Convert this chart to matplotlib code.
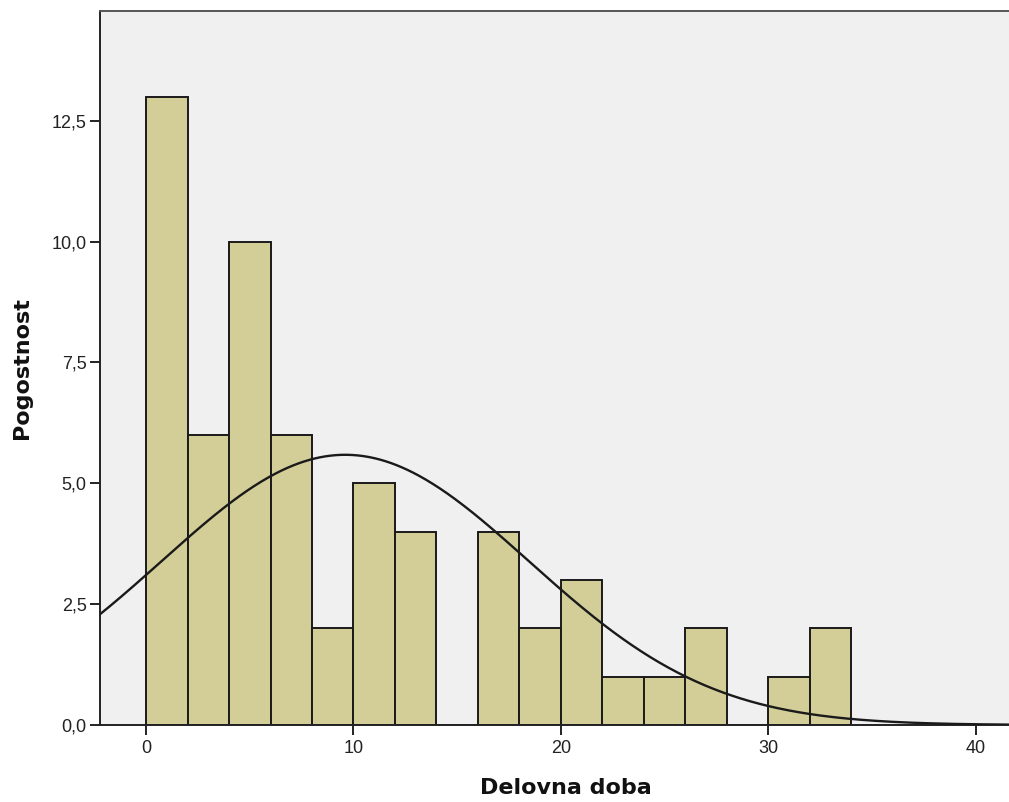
import numpy as np
import matplotlib
matplotlib.use("Agg")
import matplotlib.pyplot as plt

# Data
bin_edges = [0, 2, 4, 6, 8, 10, 12, 14, 16, 18, 20, 22, 24, 26, 28, 30, 32, 34]
counts = [13, 6, 10, 6, 2, 5, 4, 0, 4, 2, 3, 1, 1, 2, 0, 1, 2]
x_ticks = [0, 10, 20, 30, 40]
y_ticks = [0.0, 2.5, 5.0, 7.5, 10.0, 12.5]
y_tick_labels = ["0,0", "2,5", "5,0", "7,5", "10,0", "12,5"]
curve_mean = 9.6
curve_sd = 8.85
x_label = "Delovna doba"
y_label = "Pogostnost"

plt.rcParams['font.family'] = ['Liberation Sans', 'DejaVu Sans']

fig = plt.figure(figsize=(10.09, 8.02), dpi=100)
ax = fig.add_axes([100/1009, 77/802, 909/1009, 714/802])
ax.set_facecolor('#f0f0f0')

lefts = np.array(bin_edges[:-1])
widths = np.diff(bin_edges)
ax.bar(lefts, counts, width=widths, align='edge', color='#d3ce97',
       edgecolor='#1a1a1a', linewidth=1.4, zorder=2)

n = sum(counts)
bw = bin_edges[1] - bin_edges[0]
xs = np.linspace(-2.25, 41.6, 500)
ys = n * bw / (curve_sd * np.sqrt(2 * np.pi)) * np.exp(-(xs - curve_mean) ** 2 / (2 * curve_sd ** 2))
ax.plot(xs, ys, color='#1a1a1a', linewidth=1.7, zorder=3)

ax.set_xlim(-2.22, 41.6)
ax.set_ylim(0, 14.77)
ax.set_xticks(x_ticks)
ax.set_xticklabels([str(t) for t in x_ticks])
ax.set_yticks(y_ticks)
ax.set_yticklabels(y_tick_labels)
ax.tick_params(direction='out', length=7.5, width=1.4, colors='#222222',
               labelsize=13, pad=2)
ax.tick_params(axis='x', pad=3)
for s in ['left', 'bottom']:
    ax.spines[s].set_color('#222222')
    ax.spines[s].set_linewidth(1.4)
ax.spines['right'].set_visible(False)
ax.spines['top'].set_color('#555555')
ax.spines['top'].set_linewidth(1.4)

ax.set_xlabel(x_label, fontsize=16, fontweight='bold', color='#111111',
              family='DejaVu Sans')
ax.set_ylabel(y_label, fontsize=16, fontweight='bold', color='#111111',
              family='DejaVu Sans')
ax.xaxis.set_label_coords(0.513, -0.088)
ax.xaxis.label.set_verticalalignment('center')
ax.yaxis.set_label_coords(-0.0858, 0.5)
ax.yaxis.label.set_verticalalignment('center')

fig.savefig('out.png', dpi=100)
